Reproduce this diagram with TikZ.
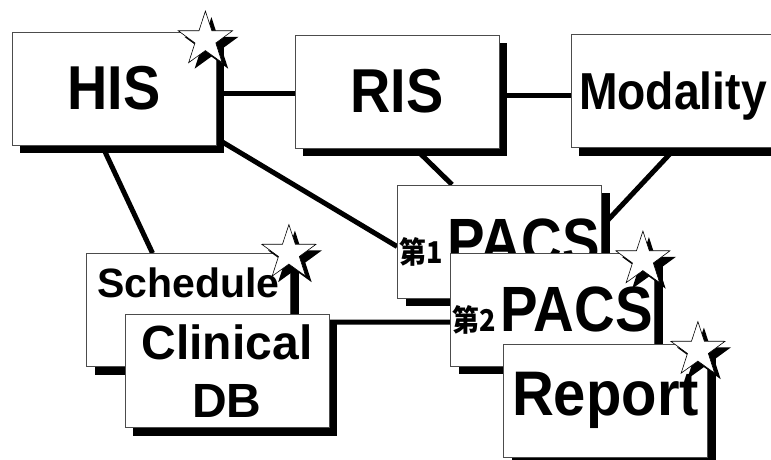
\documentclass[tikz,border=0pt]{standalone}
\usepackage{fontspec}
\setmainfont{Liberation Sans}
\newfontfamily\cjkfont{Noto Sans CJK JP}
\usepackage{graphicx}
\usetikzlibrary{shapes.geometric,shadows,backgrounds}
\newcommand{\boxLabel}[2]{\makebox[0pt]{\raisebox{#1}[0pt][0pt]{#2}}}
\newcommand{\sysName}[3]{\fontsize{#1}{#1}\selectfont\scalebox{#2}[1]{#3}}
\newcommand{\pacsNo}[1]{{\cjkfont\bfseries\fontsize{30}{30}\selectfont\scalebox{0.9}[1]{第#1}}\hspace{5pt}}

\begin{document}
\begin{tikzpicture}[x=1pt,y=-1pt,
			sysBox/.style={shape=rectangle, draw=black!70, line width=0.8pt, fill=white, inner sep=0pt, minimum width=204pt, minimum height=113pt, font=\bfseries, drop shadow={shadow xshift=8pt, shadow yshift=-8pt, fill=black, opacity=1}},
			newMark/.style={shape=star, star points=5, star point ratio=2.6, draw=black, line width=0.6pt, fill=white, inner sep=0pt, minimum size=57pt, drop shadow={shadow xshift=6pt, shadow yshift=-6pt, fill=black, opacity=1}},
			link/.style={black, line width=5pt}]
\useasboundingbox (0,0) rectangle (771,459);
\clip (0,0) rectangle (771,459);
\node [sysBox] (his) at (114,88.5) {\boxLabel{-21pt}{\sysName{62}{0.9}{HIS}}};
\node [newMark] at ([shift={(-11pt,-8pt)}]his.north east) {};
\node [sysBox] (ris) at (397,91.5) {\boxLabel{-21pt}{\sysName{62}{0.9}{RIS}}};
\node [sysBox] (mod) at (673,91) {\boxLabel{-18pt}{\sysName{52}{0.89}{Modality}}};
\node [sysBox] (pacsA) at (499.5,241.5) {\boxLabel{-22pt}{\pacsNo{1}\sysName{64}{0.88}{PACS}}};
\node [sysBox] (pacsB) at (552.5,309.5) {\boxLabel{-22pt}{\pacsNo{2}\sysName{64}{0.88}{PACS}}};
\node [newMark] at ([shift={(-12pt,-7pt)}]pacsB.north east) {};
\node [sysBox] (sched) at (188.5,310) {\boxLabel{13pt}{\sysName{41}{1}{Schedule}}};
\node [newMark] at ([shift={(-2pt,0pt)}]sched.north east) {};
\node [sysBox, align=center, font=\bfseries\fontsize{48}{58}\selectfont] (clin) at (227,371) {Clinical\\DB};
\node [sysBox] (rep) at (605.5,401) {\boxLabel{-14pt}{\sysName{63}{0.92}{Report}}};
\node [newMark] at ([shift={(-10pt,-6pt)}]rep.north east) {};
\begin{scope}[on background layer]
  \draw [link] ([yshift=-5pt]his.east) -- ([yshift=-2pt]ris.west);
  \draw [link] ([yshift=-3.5pt]ris.east) -- ([yshift=-4pt]mod.west);
  \draw [link] ([yshift=7pt]his.south east) -- ([yshift=-5pt]pacsA.west);
  \draw [link] ([xshift=-12pt]his.south) -- ([xshift=-36pt]sched.north);
  \draw [link] ([xshift=18pt]ris.south) -- ([xshift=-47.5pt]pacsA.north);
  \draw [link] ([xshift=2.5pt]mod.south) -- ([yshift=15pt]pacsA.east);
  \draw [link] ([yshift=-8pt]clin.north east) -- ([yshift=-12.5pt]pacsB.west);
\end{scope}
\end{tikzpicture}
\end{document}
